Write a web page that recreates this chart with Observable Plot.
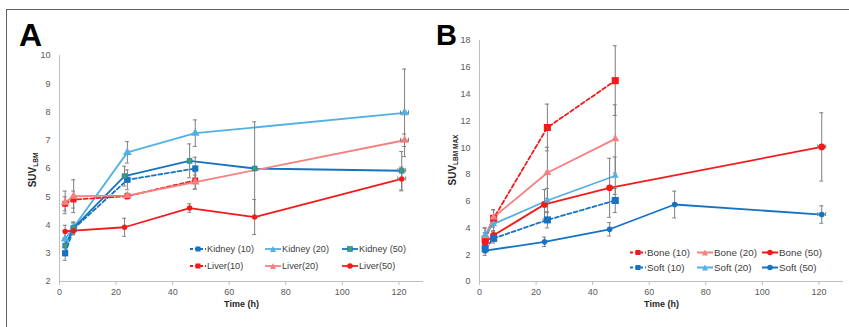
<!DOCTYPE html>
<html><head><meta charset="utf-8">
<script src="https://cdn.jsdelivr.net/npm/d3@7"></script>
<script src="https://cdn.jsdelivr.net/npm/@observablehq/plot@0.6"></script>
<style>
body{margin:0;background:#fff;}
#fig{position:relative;width:849px;height:327px;overflow:hidden;font-family:"Liberation Sans",Arial,sans-serif;background:#fff;}
.panel{position:absolute;top:0;}
.panel svg{background:transparent;overflow:visible;}
.frame{position:absolute;left:6px;top:9px;width:860px;height:340px;border-top:1px solid #606060;border-left:1px solid #606060;}
.letter{position:absolute;font-weight:bold;font-size:32px;color:#000;line-height:1;}
.ylab{position:absolute;font-weight:bold;font-size:10px;color:#262626;transform:translate(-50%,-50%) rotate(-90deg);white-space:nowrap;}
.ylab sub{font-size:6.5px;vertical-align:-2px;}
.item{position:absolute;white-space:nowrap;display:flex;align-items:center;color:#404040;transform:translateY(-50%);}
.item svg{display:block;margin-right:1px;}
</style></head>
<body>
<div id="fig">
  <div class="frame"></div>
</div>
<script>
// ---------- Panel A data (SUV_LBM) ----------
const tA10 = [2, 5, 24, 48];
const tA20 = [2, 5, 24, 48, 122];
const tA50 = [2, 5, 23, 46, 69, 121];
const kidney10 = [3.0, 3.87, 5.6, 6.0];
const kidney10Err = [0.25, 0.2, 0.35, 0.4];
const kidney20 = [3.5, 3.92, 6.57, 7.25, 7.97];
const kidney20Err = [0.3, 0.18, 0.38, 0.47, 1.55];
const kidney50 = [3.27, 3.9, 5.73, 6.27, 6.0, 5.92];
const kidney50Err = [0.25, 0.2, 0.35, 0.6, 1.65, 0.68];
const liver10 = [4.75, 4.9, 5.02, 5.58];
const liver10Err = [0.25, 0.3, 0.1, 0.3];
const liver20 = [4.8, 5.02, 5.04, 5.52, 7.0];
const liver20Err = [0.4, 0.58, 0.08, 0.25, 0.22];
const liver50 = [3.77, 3.8, 3.92, 4.6, 4.28, 5.63];
const liver50Err = [0.22, 0.15, 0.32, 0.15, 0.62, 0.42];

// ---------- Panel B data (SUV_LBM MAX) ----------
const tB10 = [2, 5, 24, 48];
const tB20 = [2, 5, 24, 48];
const tBone50 = [2, 5, 23, 46, 121];
const tSoft50 = [2, 23, 46, 69, 121];
const bone10 = [3.15, 4.72, 11.5, 15.0];
const bone10Err = [0.5, 0.65, 1.75, 2.6];
const bone20 = [3.4, 4.8, 8.12, 10.65];
const bone20Err = [0.6, 0.55, 1.9, 2.55];
const bone50 = [2.9, 3.45, 5.76, 7.0, 10.05];
const bone50Err = [0.4, 0.3, 1.1, 2.2, 2.55];
const soft10 = [2.45, 3.22, 4.6, 6.05];
const soft10Err = [0.3, 0.35, 0.6, 0.9];
const soft20 = [3.5, 4.3, 6.05, 7.9];
const soft20Err = [0.5, 0.5, 0.9, 1.4];
const soft50 = [2.3, 2.96, 3.9, 5.75, 5.0];
const soft50Err = [0.35, 0.35, 0.5, 1.0, 0.65];

// horizontal (time) error at the last time point
const lateTimeErr = 1.4;

const xTicks = [0, 20, 40, 60, 80, 100, 120];
const yTicksA = [2, 3, 4, 5, 6, 7, 8, 9, 10];
const yTicksB = [0, 2, 4, 6, 8, 10, 12, 14, 16, 18];

const darkBlue = "#1673C4", lightBlue = "#52B0E4", red = "#F21B1B", lightRed = "#F68080", green = "#3C9E74", errGray = "#7F7F7F";

function series(name, t, v, e, color, dash, symbol, r, markFill) {
  return {name, rows: t.map((tt, i) => ({name, t: tt, v: v[i], e: e[i], xe: tt >= 120 ? lateTimeErr : 0})),
          color, dash, symbol, r, markFill: markFill || color};
}

const seriesA = [
  series("Kidney (10)", tA10, kidney10, kidney10Err, darkBlue, "4,2.5", "square", 3.5),
  series("Kidney (20)", tA20, kidney20, kidney20Err, lightBlue, null, "triangle", 3.2),
  series("Kidney (50)", tA50, kidney50, kidney50Err, darkBlue, null, "square", 2.8, green),
  series("Liver(10)", tA10, liver10, liver10Err, red, "4,2.5", "square", 3.3),
  series("Liver(20)", tA20, liver20, liver20Err, lightRed, null, "triangle", 3.2),
  series("Liver(50)", tA50, liver50, liver50Err, red, null, "circle", 2.7)
];
const seriesB = [
  series("Bone (10)", tB10, bone10, bone10Err, red, "4,2.5", "square", 4),
  series("Bone (20)", tB20, bone20, bone20Err, lightRed, null, "triangle", 3),
  series("Bone (50)", tBone50, bone50, bone50Err, red, null, "circle", 3.4),
  series("Soft (10)", tB10, soft10, soft10Err, darkBlue, "4,2.5", "square", 4),
  series("Soft (20)", tB20, soft20, soft20Err, lightBlue, null, "triangle", 2.6),
  series("Soft (50)", tSoft50, soft50, soft50Err, darkBlue, null, "circle", 2.8)
];

function makePanel(list, cfg) {
  const rows = list.flatMap(s => s.rows);
  const late = rows.filter(d => d.xe > 0);
  const marks = [
    Plot.ruleX([0], {stroke: "#BFBFBF"}),
    Plot.ruleY([cfg.yDomain[0]], {stroke: "#BFBFBF"}),
    Plot.axisX({ticks: xTicks, tickSize: 4, tickPadding: 3, stroke: "#BFBFBF", label: null}),
    Plot.axisY({ticks: cfg.yTicks, tickSize: 0, tickPadding: 9, label: null}),
    Plot.text(["Time (h)"], {text: d => d, frameAnchor: "bottom", dy: 25, fontWeight: "bold", fontSize: 9, fill: "#262626"})
  ];
  for (const s of list) {
    marks.push(Plot.line(s.rows, {x: "t", y: "v", stroke: s.color, strokeWidth: 1.8, strokeDasharray: s.dash || undefined}));
  }
  marks.push(
    Plot.ruleX(rows, {x: "t", y1: d => d.v - d.e, y2: d => d.v + d.e, stroke: errGray, strokeWidth: 1}),
    Plot.ruleY(rows, {y: d => d.v + d.e, x1: d => d.t - 0.7, x2: d => d.t + 0.7, stroke: errGray}),
    Plot.ruleY(rows, {y: d => d.v - d.e, x1: d => d.t - 0.7, x2: d => d.t + 0.7, stroke: errGray}),
    Plot.ruleY(late, {y: "v", x1: d => d.t - d.xe, x2: d => d.t + d.xe, stroke: errGray}),
    Plot.ruleX(late, {x: d => d.t + d.xe, y1: d => d.v - cfg.capY, y2: d => d.v + cfg.capY, stroke: errGray}),
    Plot.ruleX(late, {x: d => d.t - d.xe, y1: d => d.v - cfg.capY, y2: d => d.v + cfg.capY, stroke: errGray})
  );
  for (const s of list) {
    marks.push(Plot.dot(s.rows, {x: "t", y: "v", symbol: s.symbol, r: s.r, fill: s.markFill, stroke: s.markFill === s.color ? "none" : s.color, strokeWidth: 0.6}));
  }
  return Plot.plot({
    width: cfg.width, height: 327,
    marginLeft: 59, marginRight: cfg.width - 59 - 364, marginTop: cfg.marginTop, marginBottom: 46,
    x: {domain: [0, 128.7]},
    y: {domain: cfg.yDomain},
    style: {fontFamily: "'Liberation Sans', Arial, sans-serif", fontSize: "9px", color: "#595959", background: "transparent"},
    marks
  });
}

const fig = document.getElementById("fig");
function place(el, left) { const d = document.createElement("div"); d.className = "panel"; d.style.left = left + "px"; d.appendChild(el); fig.appendChild(d); }
place(makePanel(seriesA, {width: 430, marginTop: 55, yDomain: [2, 10], yTicks: yTicksA, capY: 0.07}), 0);
place(makePanel(seriesB, {width: 429, marginTop: 40, yDomain: [0, 18], yTicks: yTicksB, capY: 0.15}), 420);

function addHTML(cls, html, styles) { const d = document.createElement("div"); d.className = cls; d.innerHTML = html; Object.assign(d.style, styles); fig.appendChild(d); return d; }
addHTML("letter", "A", {left: "19px", top: "19px"});
addHTML("letter", "B", {left: "436px", top: "21px", fontSize: "29px"});
addHTML("ylab", "SUV<sub>LBM</sub>", {left: "33px", top: "170px"});
addHTML("ylab", "SUV<sub>LBM MAX</sub>", {left: "453px", top: "160px"});

function swatch(s) {
  const pts = {square: `<rect x="5.5" y="1.5" width="5" height="5" fill="${s.markFill}" ${s.markFill !== s.color ? `stroke="${s.color}" stroke-width="0.6"` : ""}/>`,
               triangle: `<path d="M8,1 L11,7 L5,7 Z" fill="${s.markFill}"/>`,
               circle: `<circle cx="8" cy="4" r="2.8" fill="${s.markFill}"/>`};
  return `<svg width="16" height="8"><line x1="0" y1="4" x2="16" y2="4" stroke="${s.color}" stroke-width="1.8" ${s.dash ? `stroke-dasharray="3,2"` : ""}/>${pts[s.symbol]}</svg>`;
}
function legend(list, cols, rowsY, fontSize) {
  list.forEach((s, i) => {
    addHTML("item", swatch(s) + `<span>${s.name}</span>`, {left: cols[i % 3] + "px", top: rowsY[Math.floor(i / 3)] + "px", fontSize: fontSize + "px"});
  });
}
legend(seriesA, [190, 265, 342], [249, 266], 9.2);
legend(seriesB, [630, 697, 762], [252, 267], 9.8);
</script>
</body></html>
